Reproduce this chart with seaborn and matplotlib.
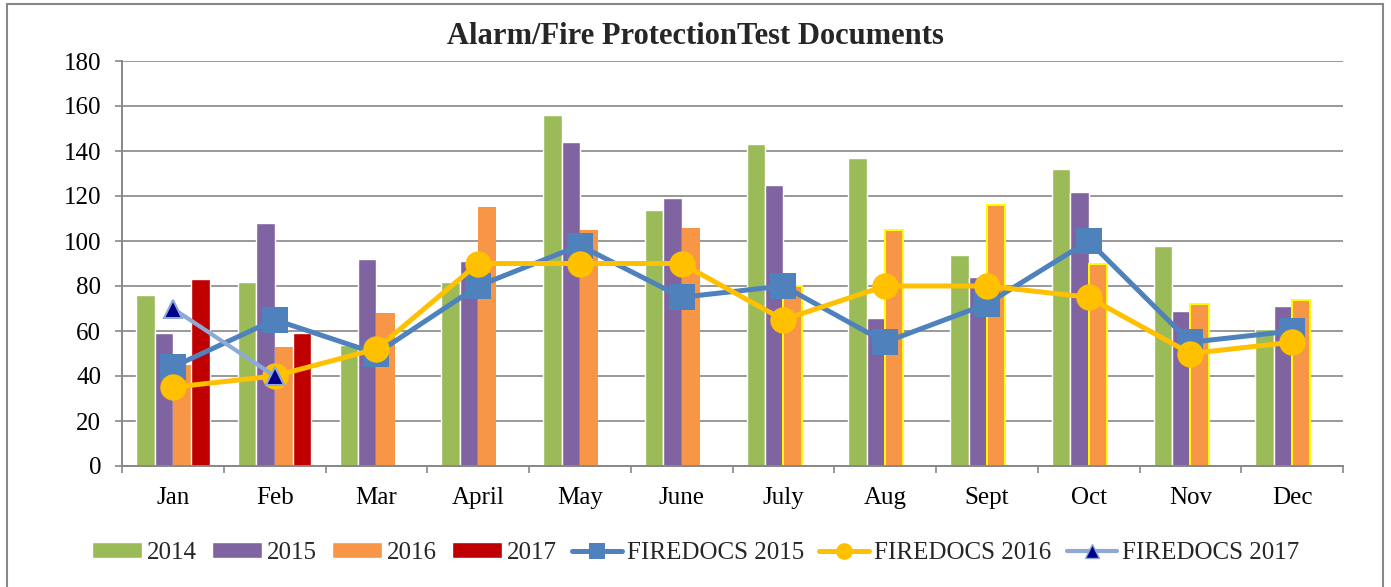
import numpy as np
import pandas as pd
import matplotlib
matplotlib.use("Agg")
import matplotlib.pyplot as plt
from matplotlib.patches import Patch, Rectangle
from matplotlib.lines import Line2D
import seaborn as sns

# data
months = ["Jan", "Feb", "Mar", "April", "May", "June", "July", "Aug", "Sept", "Oct", "Nov", "Dec"]
docs_2014 = [76, 82, 54, 82, 156, 114, 143, 137, 94, 132, 98, 61]
docs_2015 = [59, 108, 92, 91, 144, 119, 125, 66, 84, 122, 69, 71]
docs_2016 = [45, 53, 68, 115, 105, 106, 80, 105, 116, 90, 72, 74]
docs_2017 = [83, 59]
firedocs_2015 = [44, 65, 50, 80, 98, 75, 80, 55, 72, 100, 55, 60]
firedocs_2016 = [35, 40, 52, 90, 90, 90, 65, 80, 80, 75, 50, 55]
firedocs_2017 = [70, 40]

years = ["2014", "2015", "2016", "2017"]
bar_colors = ["#9BBB59", "#8064A2", "#F79646", "#C00000"]

rows = []
for yr, vals in zip(years, [docs_2014, docs_2015, docs_2016, docs_2017]):
    for m, v in zip(months, vals):
        rows.append({"Month": m, "Year": yr, "Count": v})
df = pd.DataFrame(rows)

sns.set_theme(style="white")
plt.rcParams["font.family"] = ["Liberation Serif", "DejaVu Serif"]

fig = plt.figure(figsize=(13.91, 5.87), dpi=100)
ax = fig.add_axes([122 / 1391, 1 - 466 / 587, (1343 - 122) / 1391, (466 - 61) / 587])

grid_c = "#878787"
ax.set_axisbelow(True)
ax.yaxis.grid(True, color=grid_c, linewidth=1.2)

sns.barplot(data=df, x="Month", y="Count", hue="Year", order=months, hue_order=years,
            palette=bar_colors, width=0.72, saturation=1, ax=ax, legend=False,
            errorbar=None)

# yellow outline on the later 2016 bars
for i, bar in enumerate(ax.containers[2]):
    bar.set_linewidth(0)
    if i >= 6:
        bar.set_edgecolor("#FFFF00")
        bar.set_linewidth(1.4)

x = np.arange(len(months))
sns.lineplot(x=x, y=firedocs_2015, ax=ax, color="#4F81BD", linewidth=3.6, marker="s",
             markersize=19, markeredgewidth=0, sort=False, zorder=4)
sns.lineplot(x=x, y=firedocs_2016, ax=ax, color="#FFC000", linewidth=3.6, marker="o",
             markersize=19, markeredgewidth=0, sort=False, zorder=5)
sns.lineplot(x=x[:len(firedocs_2017)], y=firedocs_2017, ax=ax, color="#8EA9D5", linewidth=3,
             marker="^", markersize=13, markerfacecolor="#00008B", markeredgecolor="#8EA9D5",
             markeredgewidth=1.5, sort=False, zorder=6)

ax.set_xlim(-0.5, 11.5)
ax.set_ylim(0, 180)
ax.set_yticks(range(0, 181, 20))
ax.set_xticks(x)
ax.set_xticklabels(months)
ax.set_xticks(np.arange(-0.5, 12, 1), minor=True)
ax.set_xlabel("")
ax.set_ylabel("")

for s in ["top", "right"]:
    ax.spines[s].set_visible(False)
for s in ["left", "bottom"]:
    ax.spines[s].set_color(grid_c)
    ax.spines[s].set_linewidth(1.4)

ax.tick_params(axis="y", which="major", left=True, length=5, width=1.2, color=grid_c,
               labelsize=18, pad=10, labelcolor="black")
ax.tick_params(axis="x", which="major", bottom=True, length=0, labelsize=18, pad=15,
               labelcolor="black")
ax.tick_params(axis="x", which="minor", bottom=True, length=5, width=1.2, color=grid_c)

fig.text(0.5, 1 - 36 / 587, "Alarm/Fire ProtectionTest Documents", ha="center", va="center",
         fontsize=22, fontweight="bold")

handles = [Patch(facecolor=c, label=y) for c, y in zip(bar_colors, years)]
handles += [
    Line2D([], [], color="#4F81BD", linewidth=3.6, marker="s", markersize=12,
           markeredgewidth=0, label="FIREDOCS 2015"),
    Line2D([], [], color="#FFC000", linewidth=3.6, marker="o", markersize=12,
           markeredgewidth=0, label="FIREDOCS 2016"),
    Line2D([], [], color="#8EA9D5", linewidth=3, marker="^", markersize=10,
           markerfacecolor="#00008B", markeredgecolor="#8EA9D5", label="FIREDOCS 2017"),
]
fig.legend(handles=handles, loc="center", bbox_to_anchor=(0.5, 1 - 553 / 587), ncol=7,
           frameon=False, fontsize=18, handlelength=2.0, handleheight=0.6,
           handletextpad=0.2, columnspacing=0.6)

# outer chart border
fig.patches.append(Rectangle((7 / 1391, -0.05), (1383 - 7) / 1391, 1.05 - 4 / 587,
                             transform=fig.transFigure, fill=False, edgecolor=grid_c,
                             linewidth=1.5))

fig.savefig("out.png", dpi=100)
